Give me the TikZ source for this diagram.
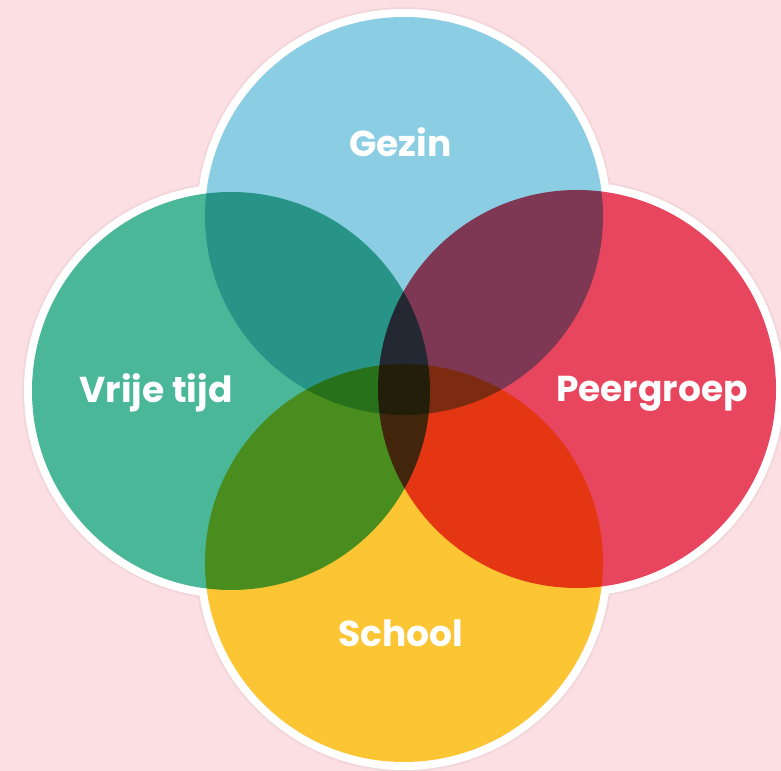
\documentclass[tikz,border=0pt]{standalone}
\usepackage{fontspec}
\newfontfamily\labelfont{Poppins}
\usepackage{tikz}
\definecolor{roze}{HTML}{FCDFE3}
\definecolor{gezinblauw}{HTML}{8BCDE3}
\definecolor{vrijgroen}{HTML}{4AB798}
\definecolor{peerrood}{HTML}{E8465F}
\definecolor{schoolgeel}{HTML}{FCC534}

\begin{document}
\begin{tikzpicture}[
    kring/.style={circle,minimum size=7.96cm,inner sep=0pt,outer sep=0pt},
    etiket/.style={anchor=base,text=white,font=\labelfont\bfseries\fontsize{20.5}{24}\selectfont}
  ]

\fill [roze] (0,0) rectangle (15.62,15.42);
\useasboundingbox (0,0) rectangle (15.62,15.42);

% schaduw en witte rand
\fill [black,opacity=0.04] (8.08,11.10) circle (4.18) (4.62,7.60) circle (4.18)
      (11.54,7.64) circle (4.18) (8.08,4.16) circle (4.18);
\fill [white] (8.08,11.10) circle (4.14) (4.62,7.60) circle (4.14)
      (11.54,7.64) circle (4.14) (8.08,4.16) circle (4.14);

\begin{scope}[blend group=multiply]
  \node [kring,fill=gezinblauw] (gezin) at (8.08,11.10) {};
  \node [kring,fill=vrijgroen] (vrij) at (4.62,7.60) {};
  \node [kring,fill=peerrood] (peer) at (11.54,7.64) {};
  \node [kring,fill=schoolgeel] (school) at (8.08,4.16) {};
\end{scope}

\node [etiket] (tgezin) at (8.01,12.28) {Gezin};
\node [etiket] (tvrij) at (3.12,7.36) {Vrije tijd};
\node [etiket] (tpeer) at (13.04,7.38) {Peergroep};
\node [etiket] (tschool) at (8.01,2.48) {School};
\end{tikzpicture}
\end{document}
